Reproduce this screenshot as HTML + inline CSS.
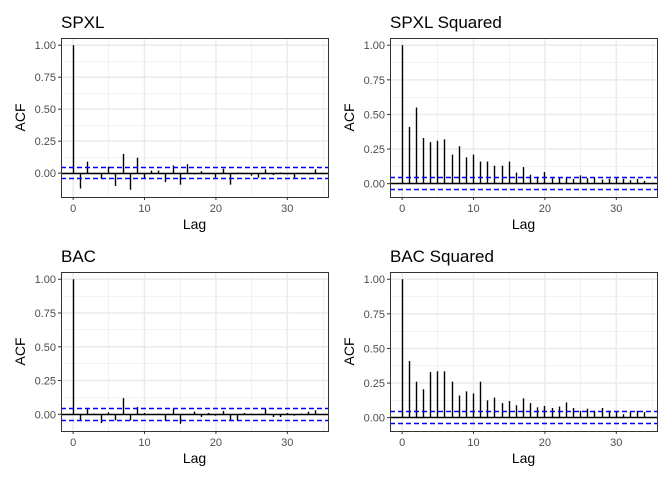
<!DOCTYPE html>
<html><head><meta charset="utf-8"><style>
body{margin:0;background:#fff;}
svg{display:block;font-family:"Liberation Sans",sans-serif;}
</style></head><body>
<svg id="chart" width="672" height="480" viewBox="0 0 672 480"></svg>
<script>
const lags = [0,1,2,3,4,5,6,7,8,9,10,11,12,13,14,15,16,17,18,19,20,21,22,23,24,25,26,27,28,29,30,31,32,33,34];
const spxlAcf = [1,-0.12,0.09,0.0,-0.045,0.05,-0.1,0.15,-0.13,0.12,-0.04,0.02,0.02,-0.07,0.06,-0.09,0.07,-0.01,0.015,-0.005,-0.035,0.035,-0.09,0.005,-0.005,-0.02,-0.035,0.03,-0.015,0.005,-0.01,-0.04,-0.005,-0.01,0.03];
const spxlSqAcf = [1,0.41,0.55,0.33,0.30,0.31,0.32,0.21,0.27,0.19,0.21,0.16,0.16,0.13,0.13,0.16,0.08,0.12,0.065,0.05,0.085,0.04,0.045,0.045,0.035,0.06,0.04,0.045,0.03,0.035,0.04,0.035,0.025,0.035,0.02];
const bacAcf = [1,-0.05,0.045,0.005,-0.065,0.015,-0.045,0.12,-0.045,0.055,0.01,-0.005,0.005,-0.05,0.04,-0.07,-0.005,0.02,-0.02,0.01,-0.01,0.025,-0.045,-0.045,0.01,0.005,-0.005,0.04,-0.02,-0.02,0.01,-0.01,0.005,0.02,0.03];
const bacSqAcf = [1,0.41,0.26,0.205,0.33,0.335,0.335,0.26,0.16,0.19,0.175,0.26,0.125,0.145,0.105,0.12,0.09,0.14,0.105,0.075,0.085,0.07,0.08,0.11,0.07,0.05,0.065,0.05,0.07,0.05,0.045,0.025,0.04,0.05,0.04];
const ciBound = 0.044;
const yTicks = [0,0.25,0.5,0.75,1];
const yTickLabels = ["0.00","0.25","0.50","0.75","1.00"];
const xTicks = [0,10,20,30];
const titles = ["SPXL","SPXL Squared","BAC","BAC Squared"];

const NS="http://www.w3.org/2000/svg";
const svg=document.getElementById('chart');
function mk(tag,attrs,parent){const e=document.createElementNS(NS,tag);for(const k in attrs)e.setAttribute(k,attrs[k]);(parent||svg).appendChild(e);return e;}
const snap=v=>Math.round(v-0.5)+0.5;

const panels=[
 {vals:spxlAcf,x0:61,x1:328,y0:38,y1:197,name:'spxl'},
 {vals:spxlSqAcf,x0:390,x1:657,y0:38,y1:197,name:'spxl-squared'},
 {vals:bacAcf,x0:61,x1:328,y0:272,y1:431,name:'bac'},
 {vals:bacSqAcf,x0:390,x1:657,y0:272,y1:431,name:'bac-squared'}
];

panels.forEach((p,pi)=>{
  const g=mk('g',{});
  
  
  let lo=Math.min(0,-ciBound,...p.vals), hi=Math.max(ciBound,...p.vals);
  const sp=hi-lo; lo-=sp*0.05; hi+=sp*0.05;
  const xlo=Math.min(...lags), xhi=Math.max(...lags), xs=xhi-xlo;
  const xmin=xlo-xs*0.05, xmax=xhi+xs*0.05;
  const X=v=>p.x0+(v-xmin)/(xmax-xmin)*(p.x1-p.x0);
  const Y=v=>p.y1-(v-lo)/(hi-lo)*(p.y1-p.y0);
  for(let v=5;v<xmax;v+=10){ if(v>xmin){mk('line',{x1:snap(X(v)),x2:snap(X(v)),y1:p.y0,y2:p.y1,stroke:'#f2f2f2','stroke-width':1},g);} }
  for(let i=0;i<yTicks.length-1;i++){const v=(yTicks[i]+yTicks[i+1])/2;mk('line',{x1:p.x0,x2:p.x1,y1:snap(Y(v)),y2:snap(Y(v)),stroke:'#f2f2f2','stroke-width':1},g);}
  xTicks.forEach(v=>{mk('line',{x1:X(v),x2:X(v),y1:p.y0,y2:p.y1,stroke:'#ebebeb','stroke-width':1.5},g);});
  yTicks.forEach(v=>{mk('line',{x1:p.x0,x2:p.x1,y1:Y(v),y2:Y(v),stroke:'#ebebeb','stroke-width':1.5},g);});
  lags.forEach((l,i)=>{
    const b=mk('line',{x1:snap(X(l)),x2:snap(X(l)),y1:Y(0),y2:Y(p.vals[i]),stroke:'#000','stroke-width':1.4},g);
    
    
  });
  const z=mk('line',{x1:p.x0,x2:p.x1,y1:snap(Y(0)),y2:snap(Y(0)),stroke:'#000','stroke-width':1.4},g);
  
  
  [ciBound,-ciBound].forEach((c,ci)=>{
    const d=mk('line',{x1:p.x0,x2:p.x1,y1:snap(Y(c)),y2:snap(Y(c)),stroke:'#0000ff','stroke-width':1.4,'stroke-dasharray':'5,3'},g);
    
    
  });
  mk('rect',{x:p.x0+0.5,y:p.y0+0.5,width:p.x1-p.x0,height:p.y1-p.y0,fill:'none',stroke:'#333','stroke-width':1},g);
  yTicks.forEach((v,i)=>{
    mk('line',{x1:p.x0-3,x2:p.x0,y1:Y(v),y2:Y(v),stroke:'#333','stroke-width':1},g);
    const t=mk('text',{x:p.x0-5,y:Y(v)+4,'text-anchor':'end','font-size':'11','fill':'#4d4d4d'},g);
    t.textContent=yTickLabels[i];
    
    
  });
  xTicks.forEach(v=>{
    mk('line',{x1:X(v),x2:X(v),y1:p.y1,y2:p.y1+3,stroke:'#333','stroke-width':1},g);
    const t=mk('text',{x:X(v),y:p.y1+15,'text-anchor':'middle','font-size':'11','fill':'#4d4d4d'},g);
    t.textContent=String(v);
    
    
  });
  const tt=mk('text',{x:p.x0,y:p.y0-10,'font-size':'17','fill':'#000'},g);
  tt.textContent=titles[pi];
  
  
  const xl=mk('text',{x:(p.x0+p.x1)/2,y:p.y1+32,'text-anchor':'middle','font-size':'14','fill':'#000'},g);
  xl.textContent='Lag';
  
  
  const cy=(p.y0+p.y1)/2, cx=p.x0-36;
  const yl=mk('text',{x:cx,y:cy,'text-anchor':'middle','font-size':'14','fill':'#000',transform:`rotate(-90 ${cx} ${cy})`},g);
  yl.textContent='ACF';
  
  
});
</script>
</body></html>
